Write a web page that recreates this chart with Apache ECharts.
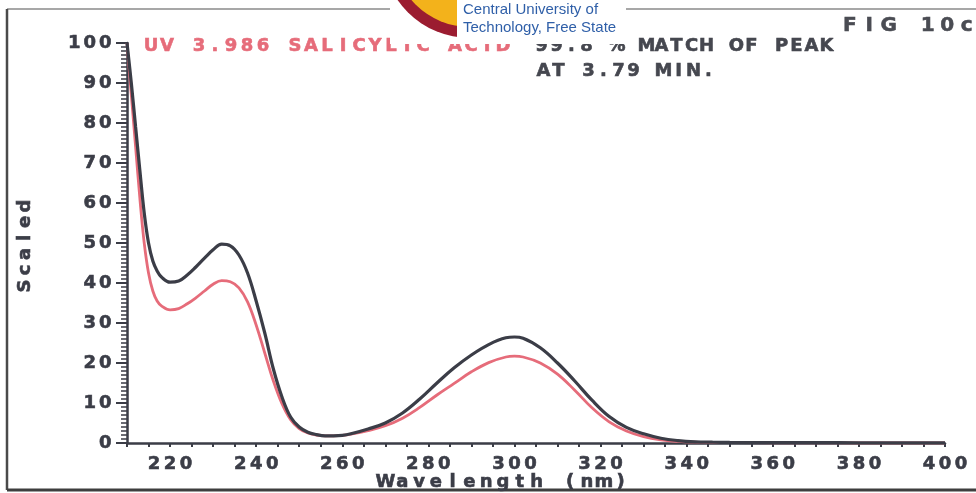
<!DOCTYPE html>
<html>
<head>
<meta charset="utf-8">
<title>UV spectrum – salicylic acid</title>
<script src="https://cdn.jsdelivr.net/npm/echarts@6/dist/echarts.min.js"></script>
<style>
  html, body { margin: 0; padding: 0; background: #ffffff; }
  #chart { width: 976px; height: 493px; }
</style>
</head>
<body>
<div id="chart"></div>
<script>
// Wavelength grid (nm) shared by both traces
const wavelengths = [210, 211, 212, 213, 214, 215, 216, 217, 218, 220, 222, 224, 226, 228, 230, 232, 234, 236, 238, 240,
  242, 244, 246, 248, 250, 252, 254, 256, 258, 260, 262, 266, 270, 274, 278, 282, 286, 290, 294, 298,
  300, 302, 306, 310, 314, 318, 322, 326, 330, 334, 338, 342, 346, 350, 360, 370, 380, 390, 400];

// Peak spectrum at 3.79 min (dark trace)
const peakSpectrum = [100, 90, 79, 68, 57.5, 50, 45.5, 43, 41.5, 40.2, 40.5, 42, 44, 46.2, 48.3, 49.7, 49.3, 47, 42.5, 35.5,
  27.5, 18.5, 11.5, 6.5, 4, 2.7, 2.1, 1.8, 1.8, 1.9, 2.3, 3.5, 5, 7.5, 11, 15, 18.8, 22, 24.6, 26.3,
  26.5, 26.2, 23.8, 20, 15.5, 10.7, 6.6, 3.9, 2.3, 1.2, 0.6, 0.3, 0.2, 0.15, 0.1, 0.1, 0.05, 0.05, 0.05];

// Library spectrum, UV 3.986 salicylic acid (red trace)
const librarySpectrum = [100, 87, 74, 61, 50, 42.5, 38, 35.5, 34.3, 33.3, 33.6, 34.8, 36.3, 38, 39.7, 40.6, 40.3, 38.8, 35.3, 29.5,
  22.5, 15.5, 9.8, 5.8, 3.6, 2.5, 2, 1.8, 1.8, 1.9, 2.2, 3.1, 4.3, 6.2, 8.9, 12, 14.9, 17.8, 20.1, 21.5,
  21.7, 21.5, 20, 17.2, 13.2, 8.8, 5.3, 3, 1.6, 0.8, 0.4, 0.2, 0.1, 0.1, 0.05, 0.05, 0, 0, 0];

// Labelled wavelengths on the x axis
const xTickLabels = [220, 240, 260, 280, 300, 320, 340, 360, 380, 400];

const INK = '#3b3d47';
const RED = '#e66c7a';
const FONT = '"DejaVu Sans", sans-serif';

// Plotter-style fixed pitch: every character sits in its own box
function spaced(str) {
  return str.split('').map(ch => '{c|' + ch + '}').join('');
}
// rich style for axis labels (ECharts option names)
function axisRich(pitch, size, color) {
  return { c: { width: pitch, align: 'center', fontSize: size, fontWeight: 'bold', fontFamily: FONT, color: color,
    textBorderColor: color, textBorderWidth: 0.6, lineHeight: size + 2 } };
}
// rich style for graphic text (zrender style names)
function plotText(str, x, y, pitch, size, color, extra) {
  return Object.assign({
    type: 'text', x: x, y: y, z: 10,
    style: {
      text: spaced(str),
      fill: color,
      rich: { c: { width: pitch, align: 'center', fontSize: size, fontWeight: 'bold', fontFamily: FONT, fill: color,
        stroke: color, lineWidth: 0.6, lineHeight: size + 2 } },
      align: 'left', verticalAlign: 'middle'
    }
  }, extra || {});
}

const chart = echarts.init(document.getElementById('chart'), null, { renderer: 'canvas' });

const option = {
  backgroundColor: '#ffffff',
  animation: false,
  grid: { left: 127, right: 31, top: 43, bottom: 50 },
  xAxis: {
    type: 'value', min: 210, max: 400, interval: 5,
    axisLine: { show: true, onZero: false, lineStyle: { color: INK, width: 2.5 } },
    axisTick: { show: true, length: 4, lineStyle: { color: INK, width: 2 } },
    splitLine: { show: false },
    axisLabel: {
      margin: 11,
      formatter: v => (xTickLabels.indexOf(v) >= 0 ? spaced(String(v)) : ''),
      rich: axisRich(16, 18, INK)
    }
  },
  yAxis: {
    type: 'value', min: 0, max: 100, interval: 10,
    axisLine: { show: true, lineStyle: { color: INK, width: 2.5 } },
    axisTick: { show: true, length: 11, lineStyle: { color: INK, width: 2 } },
    minorTick: { show: true, splitNumber: 10, length: 6, lineStyle: { color: INK, width: 1.5 } },
    splitLine: { show: false },
    minorSplitLine: { show: false },
    axisLabel: {
      margin: 14,
      formatter: v => spaced(String(v)),
      rich: axisRich(15.5, 18, INK)
    }
  },
  series: [
    {
      name: 'UV 3.986 SALICYLIC ACID',
      type: 'line', z: 2, smooth: 0.4, symbol: 'none',
      lineStyle: { color: RED, width: 2.8 },
      data: wavelengths.map((w, i) => [w, librarySpectrum[i]])
    },
    {
      name: 'Peak at 3.79 min',
      type: 'line', z: 3, smooth: 0.4, symbol: 'none',
      lineStyle: { color: INK, width: 3.2 },
      data: wavelengths.map((w, i) => [w, peakSpectrum[i]])
    }
  ],
  graphic: [
    // page frame
    { type: 'line', z: 1, shape: { x1: 7, y1: 9, x2: 976, y2: 9 }, style: { stroke: '#8a8a8a', lineWidth: 1.5 } },
    { type: 'line', z: 1, shape: { x1: 7, y1: 9, x2: 7, y2: 490 }, style: { stroke: '#4a4a4a', lineWidth: 2.5 } },
    { type: 'line', z: 1, shape: { x1: 7, y1: 490, x2: 976, y2: 490 }, style: { stroke: '#3e3e3e', lineWidth: 3 } },

    // headings
    plotText('UV 3.986 SALICYLIC ACID', 143, 46, 16, 18, RED),
    plotText('99.8 % MATCH OF PEAK', 534, 46, 15, 18, '#45474f'),
    plotText('AT 3.79 MIN.', 536, 71, 15, 18, '#45474f'),
    plotText('FIG 10c', 840, 26, 19.5, 20, '#4a4c53'),

    // axis names
    plotText('Wavelength (nm)', 377, 482, 16.8, 18, INK),
    plotText('Scaled', 25, 294, 16, 18, INK, { rotation: Math.PI / 2 }),

    // university badge over the top edge
    { type: 'rect', z: 20, shape: { x: 390, y: 0, width: 236, height: 44 }, style: { fill: '#ffffff' } },
    { type: 'circle', z: 21, shape: { cx: 470, cy: -50, r: 88 }, style: { fill: '#9b1c30' } },
    { type: 'circle', z: 21, shape: { cx: 470, cy: -50, r: 77 }, style: { fill: '#f3b21b' } },
    { type: 'rect', z: 22, shape: { x: 457, y: 0, width: 169, height: 44 }, style: { fill: '#ffffff' } },
    { type: 'rect', z: 22, shape: { x: 390, y: 40, width: 236, height: 4 }, style: { fill: '#ffffff' } },
    { type: 'text', z: 23, x: 463, y: 10, style: { text: 'Central University of', fill: '#2f5fa8', font: '15px "Liberation Sans Narrow", "Liberation Sans", sans-serif', verticalAlign: 'middle' } },
    { type: 'text', z: 23, x: 463, y: 28, style: { text: 'Technology, Free State', fill: '#2f5fa8', font: '15px "Liberation Sans Narrow", "Liberation Sans", sans-serif', verticalAlign: 'middle' } }
  ]
};

chart.setOption(option);
</script>
</body>
</html>
